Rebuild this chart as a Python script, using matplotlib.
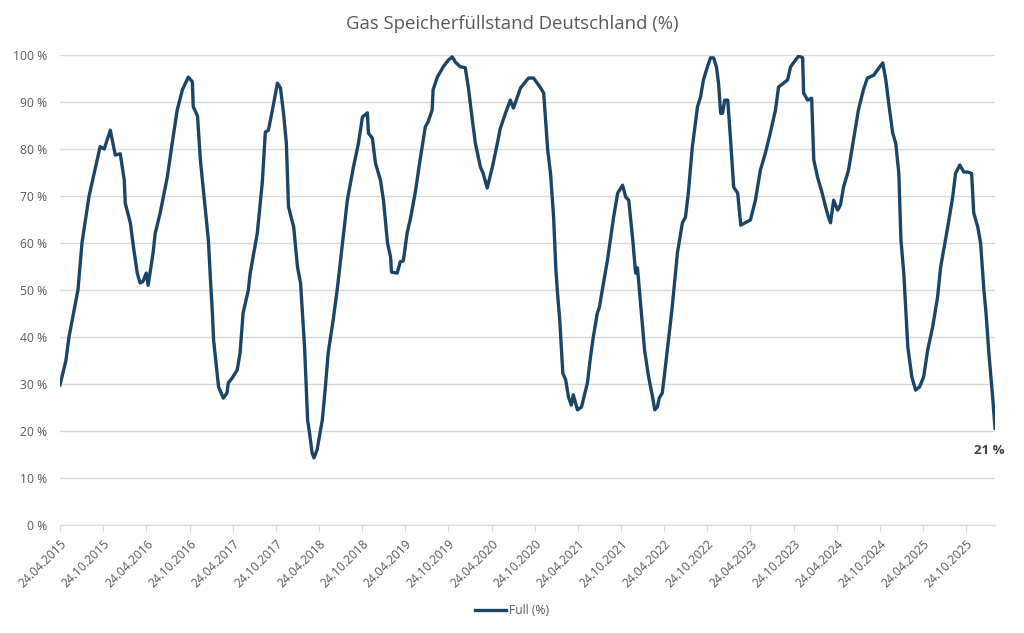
import matplotlib
matplotlib.use("Agg")
import matplotlib.pyplot as plt
import matplotlib.dates as mdates
from matplotlib.ticker import FuncFormatter
import pandas as pd

#____________________________________________________________________________________________________
# data

dates = [
    "2015-04-24", "2015-05-19", "2015-06-01", "2015-07-09", "2015-07-26", "2015-08-25", "2015-10-11",
    "2015-10-28", "2015-11-23", "2015-12-14", "2016-01-04", "2016-01-21", "2016-01-25", "2016-02-16",
    "2016-02-29", "2016-03-16", "2016-03-28", "2016-04-09", "2016-04-23", "2016-05-01", "2016-05-22",
    "2016-05-31", "2016-06-21", "2016-07-21", "2016-08-11", "2016-09-01", "2016-09-23", "2016-10-18",
    "2016-11-04", "2016-11-08", "2016-11-26", "2016-12-08", "2016-12-25", "2017-01-11", "2017-01-20",
    "2017-01-28", "2017-02-02", "2017-02-14", "2017-02-23", "2017-03-15", "2017-03-31", "2017-04-05",
    "2017-04-22", "2017-05-13", "2017-05-25", "2017-06-07", "2017-06-29", "2017-07-07", "2017-08-06",
    "2017-08-27", "2017-09-09", "2017-09-22", "2017-10-09", "2017-10-30", "2017-11-12", "2017-11-25",
    "2017-12-07", "2017-12-16", "2018-01-07", "2018-01-23", "2018-02-05", "2018-02-13", "2018-02-22",
    "2018-03-07", "2018-03-15", "2018-03-26", "2018-04-03", "2018-04-16", "2018-05-08", "2018-05-20",
    "2018-06-02", "2018-06-23", "2018-07-10", "2018-07-23", "2018-08-22", "2018-09-17", "2018-10-08",
    "2018-10-25", "2018-11-15", "2018-11-19", "2018-12-06", "2018-12-19", "2019-01-09", "2019-01-22",
    "2019-02-08", "2019-02-21", "2019-02-25", "2019-03-21", "2019-04-03", "2019-04-16", "2019-05-02",
    "2019-05-15", "2019-06-05", "2019-06-26", "2019-07-18", "2019-07-30", "2019-08-16", "2019-08-20",
    "2019-09-07", "2019-10-02", "2019-10-23", "2019-11-09", "2019-11-22", "2019-12-13", "2020-01-03",
    "2020-01-16", "2020-02-02", "2020-02-15", "2020-03-07", "2020-03-19", "2020-04-05", "2020-04-27",
    "2020-05-18", "2020-05-30", "2020-06-21", "2020-07-12", "2020-07-25", "2020-08-24", "2020-09-27",
    "2020-10-18", "2020-11-17", "2020-11-30", "2020-12-17", "2020-12-29", "2021-01-11", "2021-01-20",
    "2021-01-28", "2021-02-06", "2021-02-19", "2021-03-03", "2021-03-15", "2021-03-27", "2021-04-04",
    "2021-04-22", "2021-05-09", "2021-06-03", "2021-06-16", "2021-06-28", "2021-07-15", "2021-07-24",
    "2021-08-05", "2021-08-27", "2021-09-22", "2021-10-09", "2021-10-30", "2021-11-12", "2021-11-25",
    "2021-12-12", "2021-12-24", "2022-01-01", "2022-01-10", "2022-01-31", "2022-02-17", "2022-03-06",
    "2022-03-15", "2022-03-26", "2022-04-03", "2022-04-16", "2022-04-29", "2022-05-12", "2022-05-28",
    "2022-06-19", "2022-07-10", "2022-07-23", "2022-08-04", "2022-08-21", "2022-09-12", "2022-09-25",
    "2022-10-07", "2022-10-24", "2022-11-06", "2022-11-19", "2022-12-01", "2022-12-10", "2022-12-19",
    "2022-12-27", "2023-01-05", "2023-01-18", "2023-01-30", "2023-02-12", "2023-03-01", "2023-03-14",
    "2023-04-02", "2023-04-24", "2023-05-15", "2023-06-05", "2023-06-26", "2023-07-17", "2023-08-08",
    "2023-08-21", "2023-09-11", "2023-09-28", "2023-10-11", "2023-11-01", "2023-11-14", "2023-12-01",
    "2023-12-05", "2023-12-22", "2024-01-08", "2024-01-17", "2024-02-02", "2024-02-20", "2024-03-07",
    "2024-03-19", "2024-03-28", "2024-04-10", "2024-04-27", "2024-05-09", "2024-05-22", "2024-06-12",
    "2024-07-03", "2024-07-24", "2024-08-14", "2024-08-31", "2024-09-27", "2024-10-18", "2024-11-04",
    "2024-11-17", "2024-11-29", "2024-12-16", "2024-12-29", "2025-01-11", "2025-01-20", "2025-02-01",
    "2025-02-18", "2025-03-07", "2025-03-23", "2025-04-09", "2025-04-26", "2025-05-13", "2025-06-03",
    "2025-06-24", "2025-07-07", "2025-08-06", "2025-08-27", "2025-09-08", "2025-09-26", "2025-10-13",
    "2025-10-29", "2025-11-15", "2025-11-24", "2025-12-11", "2025-12-23", "2026-01-06", "2026-01-15",
    "2026-01-27", "2026-02-13", "2026-02-22",
]

full_pct = [
    29.8, 35.0, 40.0, 50.0, 60.0, 70.0, 80.5,
    80.0, 84.0, 78.7, 79.0, 73.4, 68.5, 64.2,
    59.1, 53.6, 51.5, 51.8, 53.6, 51.0, 57.9,
    62.1, 66.4, 74.0, 81.3, 88.3, 92.6, 95.3,
    94.3, 89.0, 87.0, 77.7, 69.1, 60.6, 52.0,
    45.1, 39.4, 33.6, 29.4, 27.0, 28.1, 30.2,
    31.3, 33.0, 36.6, 45.1, 50.0, 53.6, 62.1,
    72.8, 83.6, 84.0, 88.3, 94.0, 93.0, 87.6,
    81.2, 67.7, 63.4, 54.9, 51.5, 45.1, 37.9,
    22.3, 19.6, 15.3, 14.3, 16.0, 22.3, 28.7,
    36.6, 43.6, 50.0, 55.7, 69.1, 76.2, 81.2,
    86.8, 87.7, 83.4, 82.3, 77.0, 73.4, 69.1,
    60.0, 57.0, 53.8, 53.6, 56.0, 56.2, 62.1,
    64.9, 70.6, 77.7, 84.7, 85.8, 88.3, 92.6,
    95.3, 97.5, 98.9, 99.6, 98.5, 97.5, 97.3,
    93.2, 86.2, 81.2, 76.2, 74.8, 71.7, 76.2,
    81.2, 84.3, 87.6, 90.4, 88.7, 93.0, 95.1,
    95.1, 93.0, 91.9, 79.8, 74.8, 65.5, 54.9,
    49.0, 43.6, 32.3, 30.9, 27.2, 25.5, 27.7,
    24.5, 25.1, 30.2, 35.7, 40.0, 45.1, 46.4,
    50.0, 56.4, 65.5, 70.6, 72.3, 69.8, 69.1,
    60.6, 53.6, 54.7, 49.4, 37.2, 31.5, 27.2,
    24.5, 25.1, 27.0, 28.1, 33.6, 39.4, 46.4,
    57.9, 64.3, 65.5, 70.6, 80.4, 89.0, 91.1,
    94.7, 97.5, 99.4, 99.4, 97.5, 94.0, 87.6,
    87.6, 90.4, 90.4, 81.9, 71.9, 70.6, 63.8,
    64.3, 64.9, 69.1, 75.5, 79.1, 83.4, 88.3,
    93.2, 94.0, 94.7, 97.5, 98.9, 99.8, 99.4,
    91.9, 90.4, 90.8, 77.7, 74.0, 70.9, 67.7,
    65.5, 64.3, 69.1, 67.0, 68.1, 71.9, 75.5,
    81.9, 88.3, 92.6, 95.1, 95.7, 97.2, 98.3,
    94.7, 89.8, 83.4, 81.2, 74.8, 60.6, 53.6,
    37.9, 31.5, 28.7, 29.4, 31.5, 37.2, 42.1,
    48.5, 54.9, 63.4, 69.8, 74.8, 76.6, 75.1,
    75.1, 74.8, 66.4, 63.4, 60.0, 50.0, 45.1,
    36.6, 26.6, 20.6,
]

tick_labels = [
    "24.04.2015", "24.10.2015", "24.04.2016", "24.10.2016", "24.04.2017", "24.10.2017",
    "24.04.2018", "24.10.2018", "24.04.2019", "24.10.2019", "24.04.2020", "24.10.2020",
    "24.04.2021", "24.10.2021", "24.04.2022", "24.10.2022", "24.04.2023", "24.10.2023",
    "24.04.2024", "24.10.2024", "24.04.2025", "24.10.2025",
]

title = "Gas Speicherfüllstand Deutschland (%)"
series_name = "Full (%)"

#____________________________________________________________________________________________________
# plot

def main():
    plt.rcParams['font.family'] = ['Open Sans', 'DejaVu Sans']
    line_col = '#1b4566'
    text_col = '#595959'
    grid_col = '#d9d9d9'

    x = pd.to_datetime(dates)
    ticks = pd.to_datetime(tick_labels, format="%d.%m.%Y")

    fig = plt.figure(figsize=(10.24, 6.33), dpi=100)
    ax = fig.add_axes([60 / 1024, 1 - 525 / 633, (995 - 60) / 1024, (525 - 55) / 633])

    ax.plot(x, full_pct, color=line_col, lw=2.4, solid_joinstyle='round', label=series_name, zorder=3)

    ax.set_xlim(x[0], x[-1])
    ax.set_ylim(0, 100)
    ax.set_yticks(range(0, 101, 10))
    ax.yaxis.set_major_formatter(FuncFormatter(lambda v, p: "{:d} %".format(int(v))))
    ax.set_xticks(ticks)
    ax.set_xticklabels(tick_labels, rotation=45, ha='right', rotation_mode='anchor')

    ax.grid(axis='y', color=grid_col, lw=1.0)
    ax.set_axisbelow(True)
    for s in ['top', 'right', 'left']:
        ax.spines[s].set_visible(False)
    ax.spines['bottom'].set_color(grid_col)
    ax.tick_params(axis='y', length=0, pad=9, labelsize=8.7, colors=text_col)
    ax.tick_params(axis='x', length=5, color=grid_col, pad=4, labelsize=8.7, labelcolor=text_col)

    fig.text(0.5, 1 - 24 / 633, title, fontsize=13.3, color=text_col, ha='center', va='center')

    # label at the last value
    ax.annotate("{:.0f} %".format(full_pct[-1]), xy=(x[-1], full_pct[-1]), xytext=(-4, -16),
                textcoords='offset points', ha='center', va='center',
                fontsize=9.5, fontweight='bold', color='#404040')

    fig.legend(loc='center', bbox_to_anchor=(0.5, 1 - 611 / 633), frameon=False, fontsize=8.7,
               labelcolor=text_col, handlelength=2.6, handletextpad=0.2)

    fig.savefig("out.png", dpi=100, facecolor='white')


if __name__ == "__main__":
    main()
